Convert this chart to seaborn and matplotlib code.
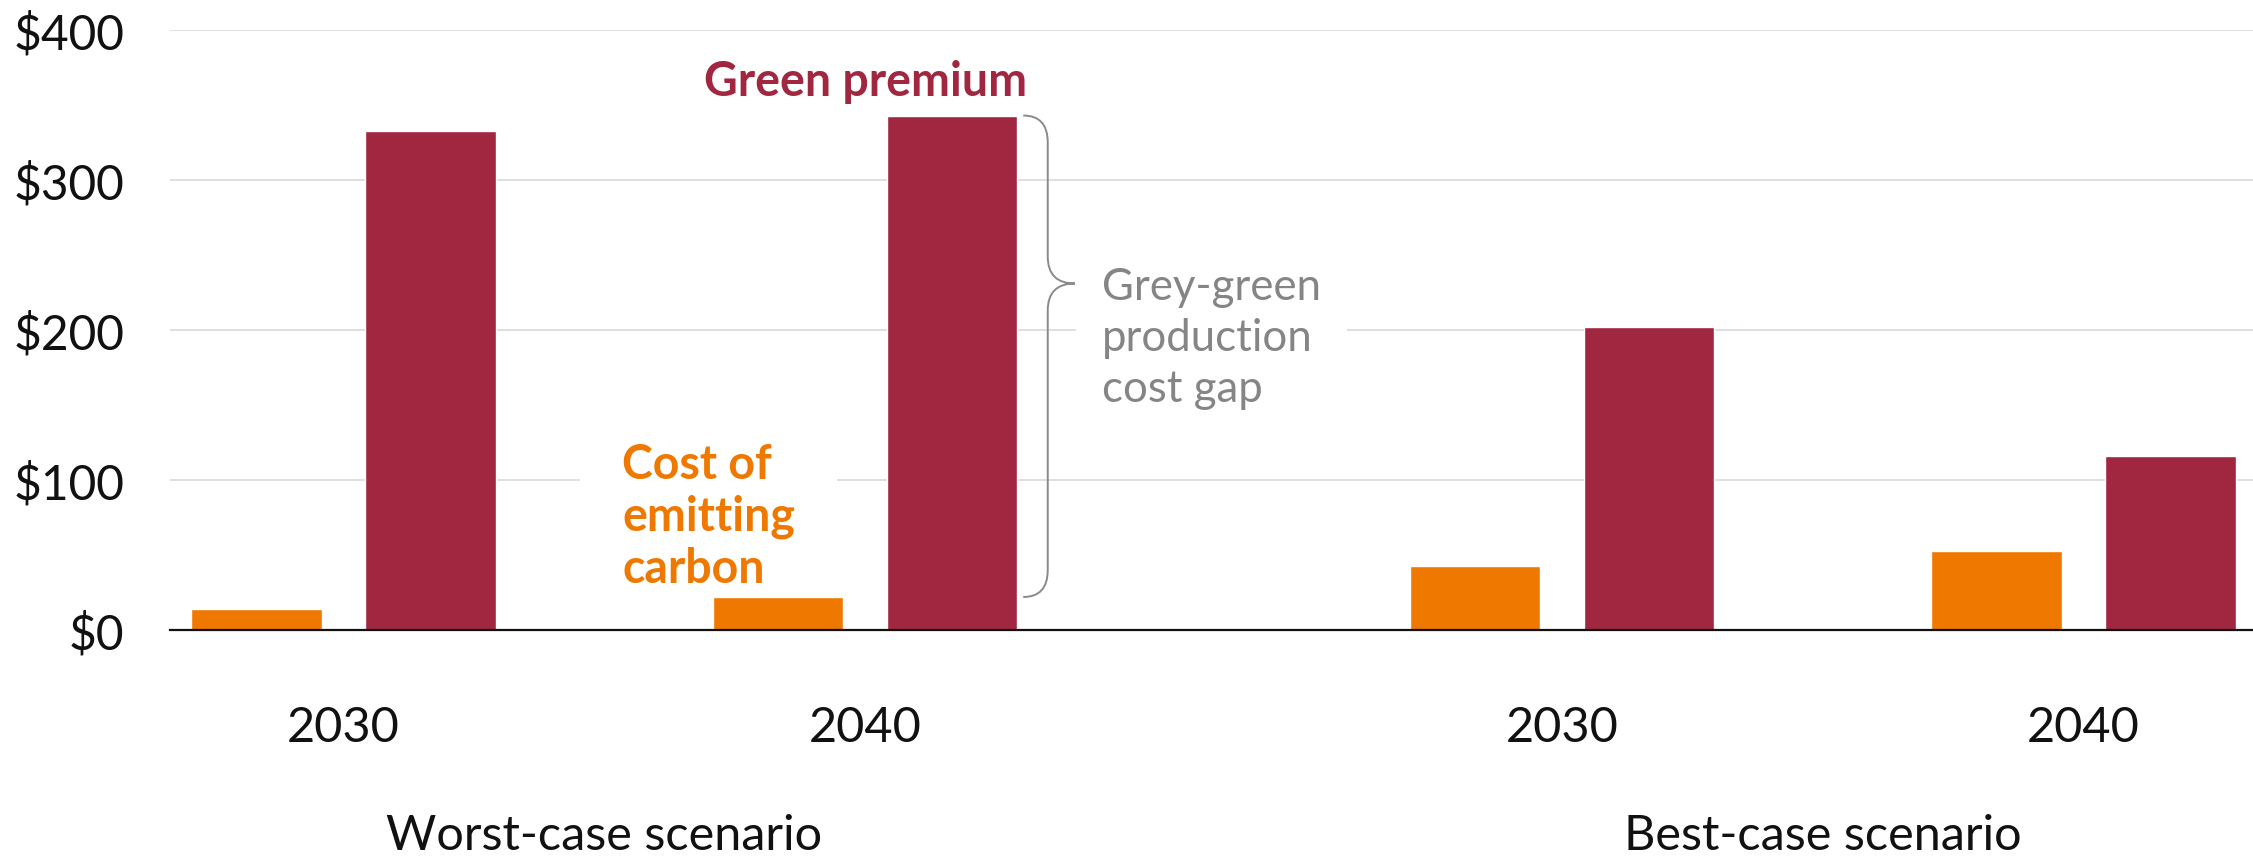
import matplotlib
matplotlib.use("Agg")
import matplotlib.pyplot as plt
from matplotlib.path import Path
from matplotlib.patches import PathPatch
import matplotlib.transforms as mtransforms
import numpy as np
import pandas as pd
import seaborn as sns

# ---- data -------------------------------------------------------------
scenarios = ["Worst-case scenario", "Worst-case scenario",
             "Best-case scenario", "Best-case scenario"]
years = ["2030", "2040", "2030", "2040"]
carbon_cost = [14, 22, 43, 53]          # cost of emitting carbon
green_premium = [333, 343, 202, 116]     # green premium
series_names = ["Cost of emitting carbon", "Green premium"]
y_ticks = [0, 100, 200, 300, 400]
y_tick_labels = ["$0", "$100", "$200", "$300", "$400"]

# slot positions along the x axis (scenario groups separated by a wider gap)
slots = [0.0, 1.0, 2.336, 3.336]

ORANGE = "#EF7800"
RED = "#A12640"
GREY_TXT = "#858585"

df = pd.DataFrame({
    "slot": slots * 2,
    "value": carbon_cost + green_premium,
    "series": [series_names[0]] * 4 + [series_names[1]] * 4,
})

sns.set_theme(style="white")
plt.rcParams["font.family"] = ["Lato", "DejaVu Sans"]

W, H = 2253, 862
fig = plt.figure(figsize=(W / 100, H / 100), dpi=100)
ax = fig.add_axes([170 / W, (H - 631) / H, 1 - 170 / W, 600 / H])

sns.barplot(data=df, x="slot", y="value", hue="series", hue_order=series_names,
            palette=[ORANGE, RED], native_scale=True, width=0.667, gap=0.25,
            saturation=1, legend=False, ax=ax, zorder=2)

ax.set_xlim(-0.333, 3.661)
ax.set_ylim(0, 400)
ax.set_yticks(y_ticks)
ax.set_yticklabels(y_tick_labels)
ax.set_xticks(slots)
ax.set_xticklabels(years)
ax.set_xlabel("")
ax.set_ylabel("")
ax.tick_params(axis="y", length=0, pad=33, labelsize=34.5, labelcolor="#111111")
ax.tick_params(axis="x", length=0, pad=54, labelsize=35, labelcolor="#111111")
ax.yaxis.grid(True, color="#DCDCDC", linewidth=1.3)
ax.xaxis.grid(False)
ax.set_axisbelow(True)
for side in ["top", "right", "left"]:
    ax.spines[side].set_visible(False)
ax.spines["bottom"].set_color("#111111")
ax.spines["bottom"].set_linewidth(1.6)
ax.spines["bottom"].set_zorder(4)

# scenario labels under the year ticks
trans = mtransforms.blended_transform_factory(ax.transData, ax.transAxes)
for i in (0, 2):
    ax.text((slots[i] + slots[i + 1]) / 2, -0.365, scenarios[i], transform=trans,
            ha="center", va="baseline", fontsize=35, color="#111111")

# series annotations
ax.text(slots[1], green_premium[1] + 23, "Green premium", ha="center", va="center",
        fontsize=33.5, fontweight="bold", color=RED)
ax.text(0.534, 76, "Cost of\nemitting\ncarbon", ha="left", va="center",
        fontsize=33.5, fontweight="bold", color=ORANGE, linespacing=1.22,
        bbox=dict(boxstyle="square,pad=0.9", fc="white", ec="none"), zorder=1.8)
ax.text(1.4545, 195, "Grey-green\nproduction\ncost gap", ha="left", va="center",
        fontsize=31.5, color=GREY_TXT, linespacing=1.3,
        bbox=dict(boxstyle="square,pad=0.6", fc="white", ec="none"), zorder=1.8)

# curly brace spanning the gap between the two 2040 worst-case bars
top, bot, tip = green_premium[1], carbon_cost[1], 231
x0, x1, x2, ry = 1.303, 1.350, 1.402, 18
verts = [(x0, top), (x1, top), (x1, top - ry),
         (x1, tip + ry),
         (x1, tip), (x2, tip),
         (x1, tip), (x1, tip - ry),
         (x1, bot + ry),
         (x1, bot), (x0, bot)]
codes = [Path.MOVETO, Path.CURVE3, Path.CURVE3,
         Path.LINETO,
         Path.CURVE3, Path.CURVE3,
         Path.CURVE3, Path.CURVE3,
         Path.LINETO,
         Path.CURVE3, Path.CURVE3]
ax.add_patch(PathPatch(Path(verts, codes), fc="none", ec="#8A8A8A", lw=1.4,
                       zorder=5, clip_on=False))

fig.savefig("out.png", dpi=100, facecolor="white")
